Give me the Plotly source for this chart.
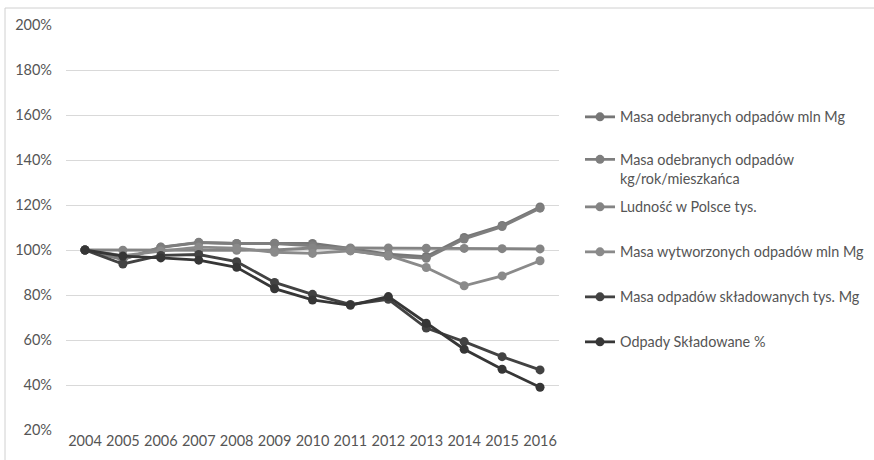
import plotly.graph_objects as go

# Index values (2004 = 100%)
years = ["2004", "2005", "2006", "2007", "2008", "2009", "2010",
         "2011", "2012", "2013", "2014", "2015", "2016"]

masa_odebranych_mln = [100, 95.8, 101.2, 103.3, 102.9, 103.0, 102.9, 100.7, 98.2, 97.1, 105.6, 110.9, 119.1]
masa_odebranych_kg = [100, 95.9, 101.3, 103.4, 102.9, 102.9, 101.9, 99.8, 97.3, 96.3, 104.9, 110.4, 118.6]
ludnosc = [100, 99.9, 99.8, 99.8, 99.9, 100.0, 100.9, 100.9, 100.9, 100.8, 100.7, 100.6, 100.5]
masa_wytworzonych = [100, 97.5, 99.5, 101.3, 100.8, 99.0, 98.5, 99.6, 97.6, 92.2, 84.1, 88.5, 95.2]
masa_skladowanych = [100, 93.8, 97.6, 98.0, 94.8, 85.6, 80.3, 75.8, 78.1, 65.3, 59.3, 52.6, 46.7]
odpady_skladowane_pct = [100, 97.3, 96.5, 95.5, 92.3, 82.8, 77.8, 75.4, 79.3, 67.4, 55.9, 47.0, 39.0]

series_names = [
    "Masa odebranych odpadów mln Mg",
    "Masa odebranych odpadów<br>kg/rok/mieszkańca",
    "Ludność w Polsce tys.",
    "Masa wytworzonych odpadów mln Mg",
    "Masa odpadów składowanych tys. Mg",
    "Odpady Składowane %",
]
series_values = [masa_odebranych_mln, masa_odebranych_kg, ludnosc,
                 masa_wytworzonych, masa_skladowanych, odpady_skladowane_pct]
series_colors = ["#767676", "#7e7e7e", "#848484", "#8a8a8a", "#424242", "#363636"]

y_ticks = [20, 40, 60, 80, 100, 120, 140, 160, 180, 200]

FONT = "Lato"
TEXT = "#555555"

W, H = 874, 460
# Plot area in pixels
PLOT_LEFT, PLOT_RIGHT = 66, 559
PLOT_TOP, PLOT_BOTTOM = 25, 430
PLOT_W = PLOT_RIGHT - PLOT_LEFT
PLOT_H = PLOT_BOTTOM - PLOT_TOP

# Legend entries, positioned in container pixels
legend_px_x = 580
legend_px_y = [117, 169, 207, 252, 297, 342]

fig = go.Figure()
layout_legends = {}
for i, (name, vals, col) in enumerate(zip(series_names, series_values, series_colors)):
    key = "legend" if i == 0 else f"legend{i + 1}"
    fig.add_trace(go.Scatter(
        x=years, y=vals, name=name, mode="lines+markers",
        line=dict(color=col, width=2.8),
        marker=dict(color=col, size=9, symbol="circle"),
        legend=key,
    ))
    layout_legends[key] = dict(
        xref="container", yref="container",
        x=legend_px_x / W, y=1 - legend_px_y[i] / H,
        xanchor="left", yanchor="middle", valign="top",
        font=dict(family=FONT, size=14.4, color=TEXT),
        itemwidth=30, bgcolor="rgba(0,0,0,0)",
    )

fig.update_layout(
    width=W, height=H,
    margin=dict(l=PLOT_LEFT, r=W - PLOT_RIGHT, t=PLOT_TOP, b=H - PLOT_BOTTOM,
                autoexpand=False),
    paper_bgcolor="white", plot_bgcolor="white",
    font=dict(family=FONT, size=14.5, color=TEXT),
    showlegend=True,
    xaxis=dict(
        type="category", range=[-0.5, 12.5],
        showgrid=False, showline=False, zeroline=False,
        ticks="", tickfont=dict(family=FONT, size=14.5, color=TEXT),
    ),
    yaxis=dict(
        range=[20, 200], tickvals=y_ticks,
        ticktext=[f"{v}%" for v in y_ticks],
        showgrid=True, gridcolor="#d9d9d9", gridwidth=1,
        zeroline=False, showline=False, ticks="",
        ticklabelstandoff=13,
        tickfont=dict(family=FONT, size=14.5, color=TEXT),
    ),
    **layout_legends,
)

# Thin frame around the chart area
fig.add_shape(type="rect", xref="paper", yref="paper",
              x0=(5 - PLOT_LEFT) / PLOT_W, x1=(880 - PLOT_LEFT) / PLOT_W,
              y0=(PLOT_BOTTOM - 470) / PLOT_H, y1=(PLOT_BOTTOM - 8) / PLOT_H,
              line=dict(color="#d0d0d0", width=1), layer="below")

fig.write_html("out.html")
